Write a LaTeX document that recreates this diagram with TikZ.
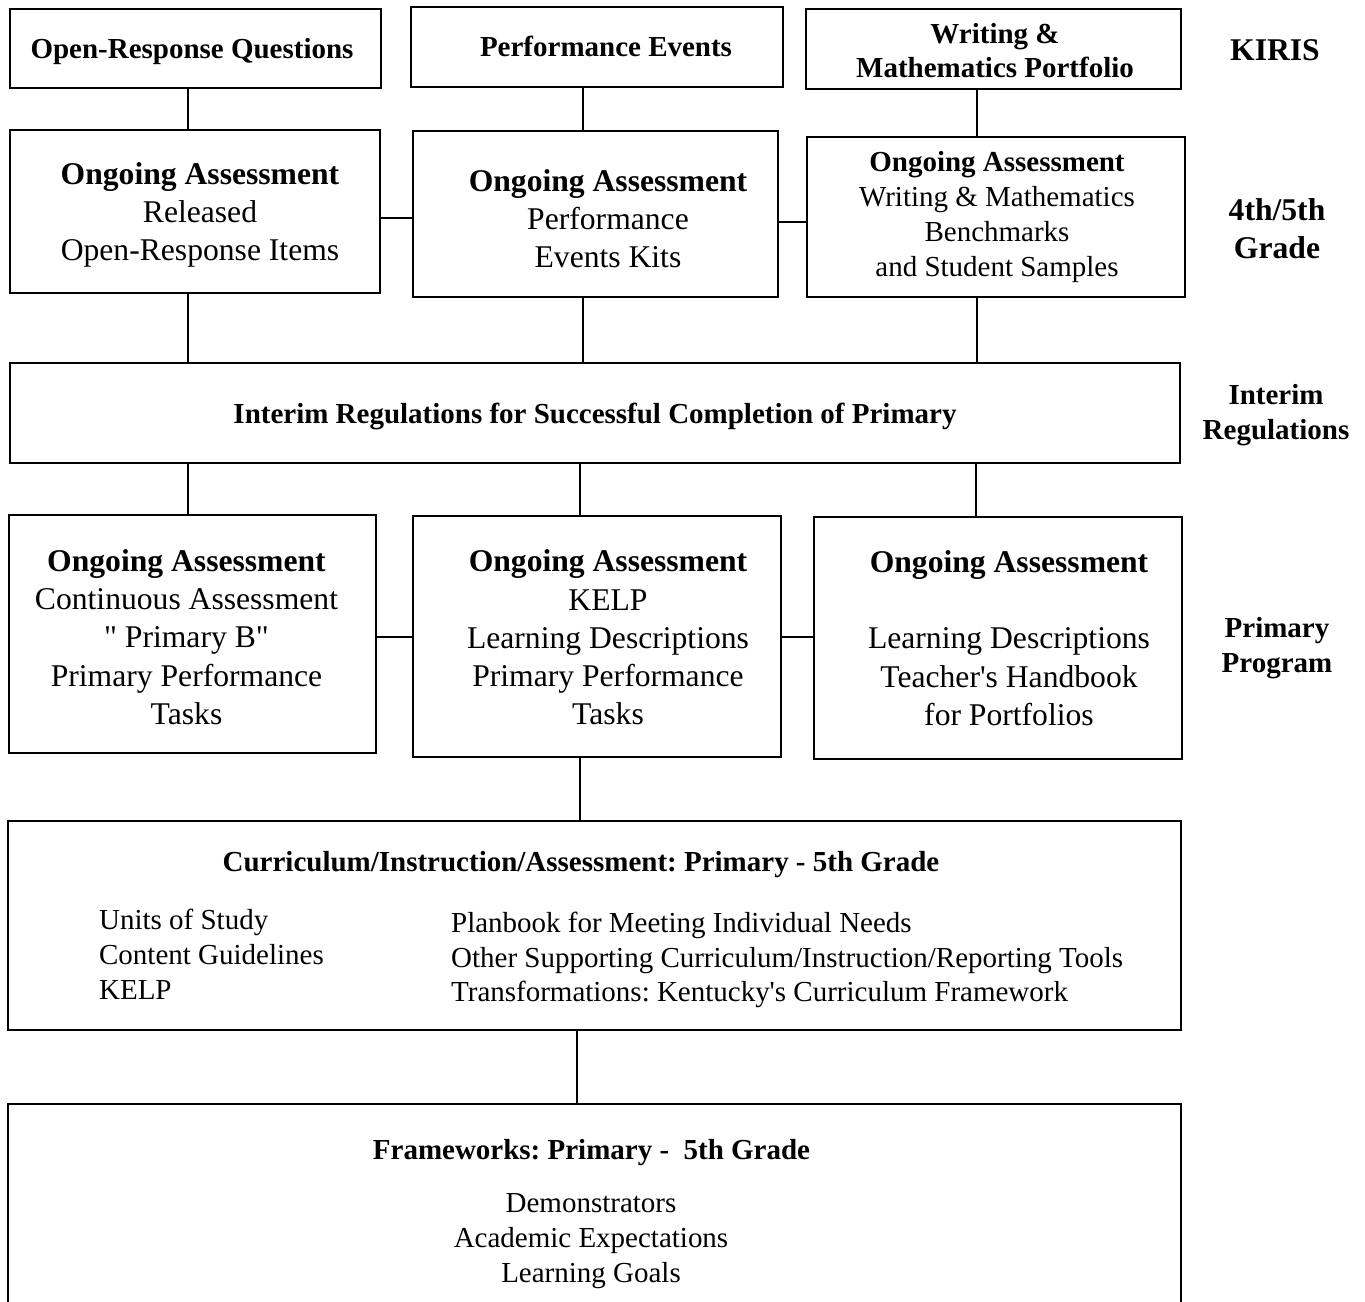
\documentclass[tikz,border=0pt]{standalone}
\usepackage{fontspec}
\setmainfont{Liberation Serif}[Ligatures=TeXOff]
\frenchspacing

\begin{document}
\begin{tikzpicture}[x=0.02cm,y=-0.02cm,line width=1.3pt,
  box/.style={draw,rectangle,inner sep=0pt,outer sep=0pt},
  head/.style={font=\bfseries\fontsize{16.5}{19.3}\selectfont,align=center},
  big/.style={font=\fontsize{18}{21.8}\selectfont,align=center},
  mid/.style={font=\fontsize{16.5}{19.8}\selectfont,align=center},
  side/.style={font=\bfseries\fontsize{16.5}{19.8}\selectfont,align=center},
  sidebig/.style={font=\bfseries\fontsize{18}{21.5}\selectfont,align=center}]
  \useasboundingbox (0,0) rectangle (1365,1301);

  % frames
  \node[box,minimum width=7.42cm,minimum height=1.58cm] (orq) at (195.5,48.5) {};
  \node[box,minimum width=7.44cm,minimum height=1.6cm] (pev) at (597,47) {};
  \node[box,minimum width=7.5cm,minimum height=1.6cm] (wmp) at (993.5,49) {};
  \node[box,minimum width=7.4cm,minimum height=3.26cm] (oa1) at (195,211.5) {};
  \node[box,minimum width=7.3cm,minimum height=3.32cm] (oa2) at (595.5,214) {};
  \node[box,minimum width=7.56cm,minimum height=3.2cm] (oa3) at (996,217) {};
  \node[box,minimum width=23.4cm,minimum height=2cm] (irc) at (595,413) {};
  \node[box,minimum width=7.34cm,minimum height=4.76cm] (pa1) at (192.5,634) {};
  \node[box,minimum width=7.36cm,minimum height=4.82cm] (pa2) at (597,636.5) {};
  \node[box,minimum width=7.36cm,minimum height=4.84cm] (pa3) at (998,638) {};
  \node[box,minimum width=23.46cm,minimum height=4.18cm] (cia) at (594.5,925.5) {};
  \node[box,minimum width=23.46cm,minimum height=4.52cm] (fw) at (594.5,1217) {};

  % KIRIS
  \node[head] (orq-t) at (192,51.5) {Open-Response Questions};
  \node[head] (pev-t) at (606,46) {Performance Events};
  \node[head] (wmp-t) at (995,50.5) {Writing \&\\Mathematics Portfolio};

  % 4th/5th grade
  \node[big] (oa1-t) at (200,215)
    {\textbf{Ongoing Assessment}\\Released\\Open-Response Items};
  \node[big] (oa2-t) at (608,218.5)
    {\textbf{Ongoing Assessment}\\Performance\\Events Kits};
  \node[mid] (oa3-t) at (997,217)
    {\textbf{Ongoing Assessment}\\Writing \& Mathematics\\Benchmarks\\and Student Samples};

  % interim regulations
  \node[head] (irc-t) at (595,416) {Interim Regulations for Successful Completion of Primary};

  % primary program
  \node[big] (pa1-t) at (186.5,637)
    {\textbf{Ongoing Assessment}\\Continuous Assessment\\" Primary B"\\Primary Performance\\Tasks};
  \node[big] (pa2-t) at (608,637.5)
    {\textbf{Ongoing Assessment}\\KELP\\Learning Descriptions\\Primary Performance\\Tasks};
  \node[big] (pa3-t) at (1009,638)
    {\textbf{Ongoing Assessment}\\[21.8pt]Learning Descriptions\\Teacher's Handbook\\for Portfolios};

  % curriculum
  \node[head] (cia-t) at (581,865) {Curriculum/Instruction/Assessment: Primary - 5th Grade};
  \node[mid,align=left,anchor=west,inner sep=0pt] (cia-l) at (98,954)
    {Units of Study\\Content Guidelines\\KELP};
  \node[mid,align=left,anchor=west,inner sep=0pt] (cia-r) at (450,960)
    {Planbook for Meeting Individual Needs\\Other Supporting Curriculum/Instruction/Reporting Tools\\Transformations: Kentucky's Curriculum Framework};

  % frameworks
  \node[head] (fw-t) at (591.5,1153) {Frameworks: Primary -\ \ 5th Grade};
  \node[mid] (fw-l) at (591,1241) {Demonstrators\\Academic Expectations\\Learning Goals};

  % side labels
  \node[sidebig] (kiris) at (1275,50) {KIRIS};
  \node[sidebig] (grade) at (1277,229) {4th/5th\\Grade};
  \node[side] (interim) at (1276,415) {Interim\\Regulations};
  \node[side] (primary) at (1277,648) {Primary\\Program};

  % connectors
  \draw (188,0 |- orq.south) -- (188,0 |- oa1.north);
  \draw (583,0 |- pev.south) -- (583,0 |- oa2.north);
  \draw (977,0 |- wmp.south) -- (977,0 |- oa3.north);
  \draw (oa1.east |- 0,218) -- (oa2.west |- 0,218);
  \draw (oa2.east |- 0,222) -- (oa3.west |- 0,222);
  \draw (188,0 |- oa1.south) -- (188,0 |- irc.north);
  \draw (583,0 |- oa2.south) -- (583,0 |- irc.north);
  \draw (977,0 |- oa3.south) -- (977,0 |- irc.north);
  \draw (188,0 |- irc.south) -- (188,0 |- pa1.north);
  \draw (580,0 |- irc.south) -- (580,0 |- pa2.north);
  \draw (976,0 |- irc.south) -- (976,0 |- pa3.north);
  \draw (pa1.east |- 0,637) -- (pa2.west |- 0,637);
  \draw (pa2.east |- 0,637) -- (pa3.west |- 0,637);
  \draw (580,0 |- pa2.south) -- (580,0 |- cia.north);
  \draw (577,0 |- cia.south) -- (577,0 |- fw.north);
\end{tikzpicture}
\end{document}
